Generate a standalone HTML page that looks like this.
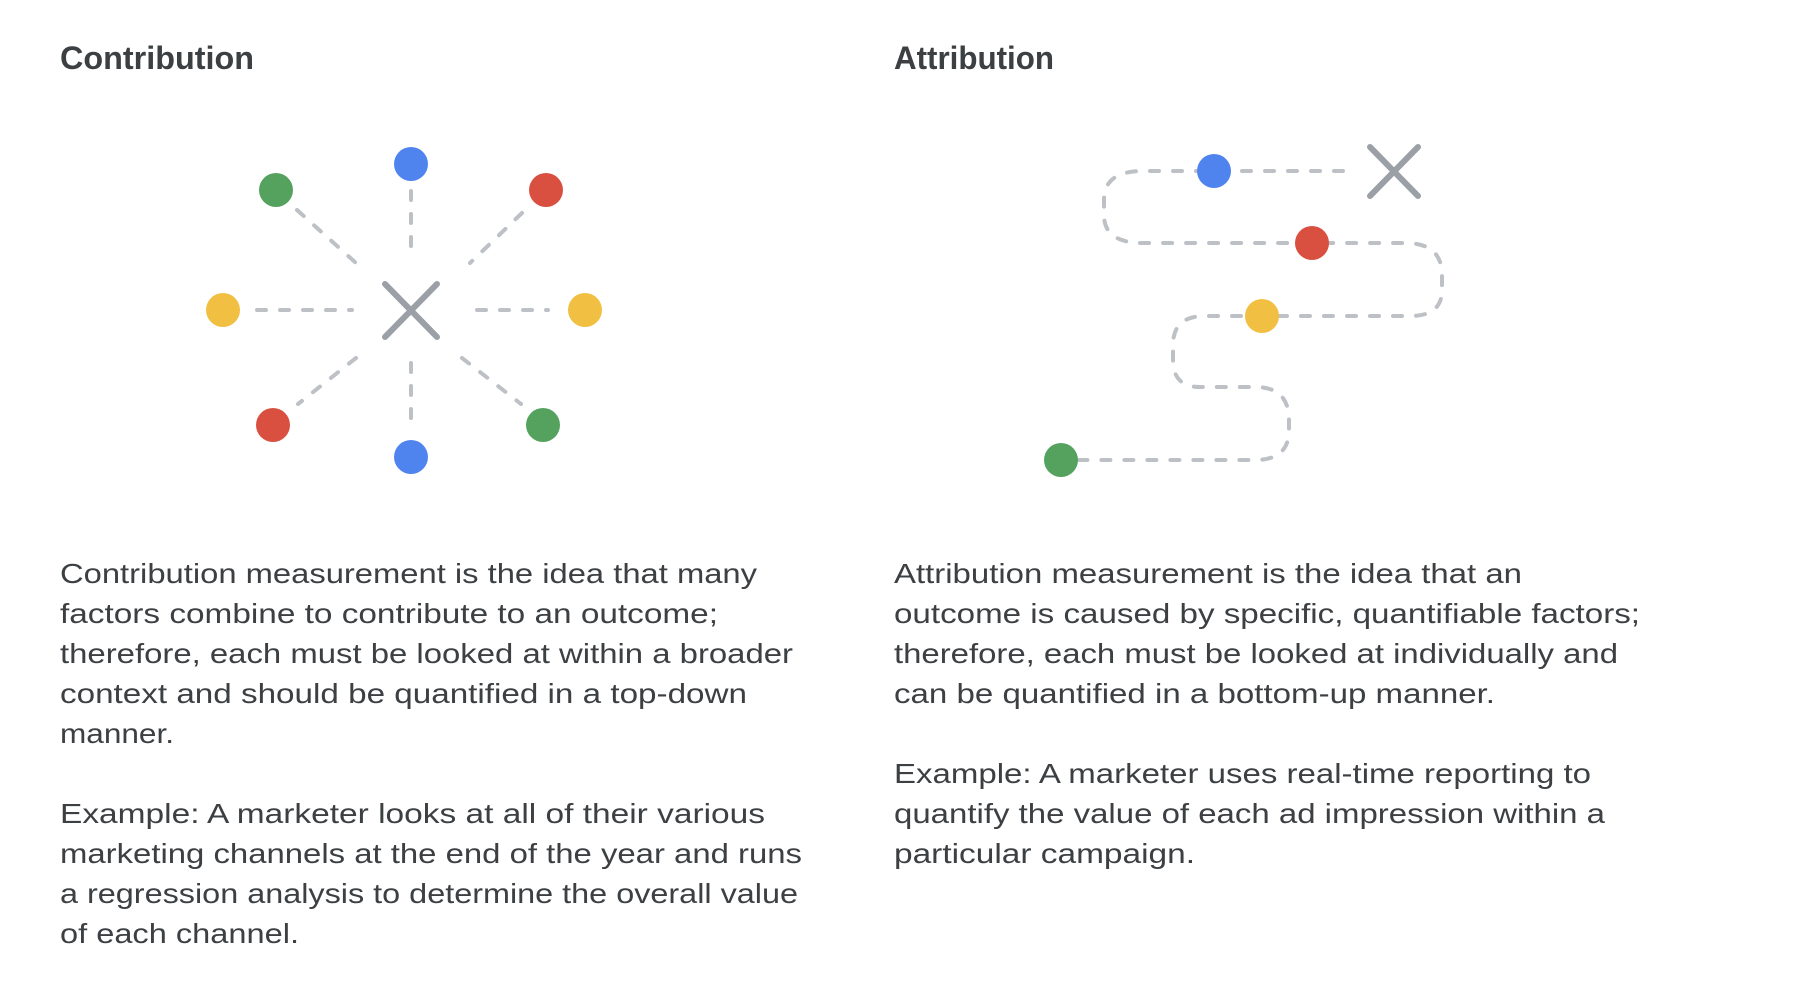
<!DOCTYPE html>
<html><head><meta charset="utf-8"><style>
html,body{margin:0;padding:0;background:#fff;}
svg{display:block;}
text{font-family:"Liberation Sans",sans-serif;fill:#3c4043;}
.t{font-size:32px;font-weight:bold;}
.b{font-size:28px;}
</style></head><body>
<svg width="1808" height="1000" viewBox="0 0 1808 1000" xmlns="http://www.w3.org/2000/svg">
<text class="t" x="60" y="69" textLength="194" lengthAdjust="spacingAndGlyphs">Contribution</text>
<text class="t" x="894" y="69" textLength="160" lengthAdjust="spacingAndGlyphs">Attribution</text>

<g stroke="#bdc1c6" stroke-width="4" stroke-linecap="round" stroke-dasharray="9 14" fill="none">
<line x1="257" y1="310" x2="352" y2="310"/>
<line x1="477" y1="310" x2="548" y2="310"/>
<line x1="411" y1="191" x2="411" y2="253"/>
<line x1="411" y1="363" x2="411" y2="425"/>
<line x1="297" y1="210" x2="356" y2="263"/>
<line x1="522" y1="213" x2="470" y2="263"/>
<line x1="356" y1="358" x2="298" y2="404"/>
<line x1="462" y1="358" x2="521" y2="404"/>
<path d="M1343,171 H1143 Q1104,171 1104,200 V215 Q1104,243 1143,243 H1405 Q1442,243 1442,275 V290 Q1442,316 1410,316 H1205 Q1173,316 1173,345 V360 Q1173,387 1200,387 H1255 Q1289,387 1289,420 V430 Q1289,460 1255,460 H1061"/>
</g>

<g stroke="#9aa0a6" stroke-width="6" stroke-linecap="round">
<line x1="385" y1="284" x2="437" y2="337"/><line x1="437" y1="284" x2="385" y2="337"/>
<line x1="1370" y1="147" x2="1418" y2="196"/><line x1="1418" y1="147" x2="1370" y2="196"/>
</g>

<g>
<circle cx="411" cy="164" r="17" fill="#4f84ee"/>
<circle cx="276" cy="190" r="17" fill="#54a25e"/>
<circle cx="546" cy="190" r="17" fill="#d95040"/>
<circle cx="223" cy="310" r="17" fill="#f1bf42"/>
<circle cx="585" cy="310" r="17" fill="#f1bf42"/>
<circle cx="273" cy="425" r="17" fill="#d95040"/>
<circle cx="543" cy="425" r="17" fill="#54a25e"/>
<circle cx="411" cy="457" r="17" fill="#4f84ee"/>
<circle cx="1214" cy="171" r="17" fill="#4f84ee"/>
<circle cx="1312" cy="243" r="17" fill="#d95040"/>
<circle cx="1262" cy="316" r="17" fill="#f1bf42"/>
<circle cx="1061" cy="460" r="17" fill="#54a25e"/>
</g>

<g>
<text class="b" x="60" y="583" textLength="697" lengthAdjust="spacingAndGlyphs">Contribution measurement is the idea that many</text>
<text class="b" x="60" y="623" textLength="658" lengthAdjust="spacingAndGlyphs">factors combine to contribute to an outcome;</text>
<text class="b" x="60" y="663" textLength="733" lengthAdjust="spacingAndGlyphs">therefore, each must be looked at within a broader</text>
<text class="b" x="60" y="703" textLength="687" lengthAdjust="spacingAndGlyphs">context and should be quantified in a top-down</text>
<text class="b" x="60" y="743" textLength="114" lengthAdjust="spacingAndGlyphs">manner.</text>
<text class="b" x="60" y="823" textLength="705" lengthAdjust="spacingAndGlyphs">Example: A marketer looks at all of their various</text>
<text class="b" x="60" y="863" textLength="742" lengthAdjust="spacingAndGlyphs">marketing channels at the end of the year and runs</text>
<text class="b" x="60" y="903" textLength="738" lengthAdjust="spacingAndGlyphs">a regression analysis to determine the overall value</text>
<text class="b" x="60" y="943" textLength="239" lengthAdjust="spacingAndGlyphs">of each channel.</text>

<text class="b" x="894" y="583" textLength="628" lengthAdjust="spacingAndGlyphs">Attribution measurement is the idea that an</text>
<text class="b" x="894" y="623" textLength="746" lengthAdjust="spacingAndGlyphs">outcome is caused by specific, quantifiable factors;</text>
<text class="b" x="894" y="663" textLength="724" lengthAdjust="spacingAndGlyphs">therefore, each must be looked at individually and</text>
<text class="b" x="894" y="703" textLength="601" lengthAdjust="spacingAndGlyphs">can be quantified in a bottom-up manner.</text>
<text class="b" x="894" y="783" textLength="697" lengthAdjust="spacingAndGlyphs">Example: A marketer uses real-time reporting to</text>
<text class="b" x="894" y="823" textLength="711" lengthAdjust="spacingAndGlyphs">quantify the value of each ad impression within a</text>
<text class="b" x="894" y="863" textLength="301" lengthAdjust="spacingAndGlyphs">particular campaign.</text>
</g>
</svg>
</body></html>
